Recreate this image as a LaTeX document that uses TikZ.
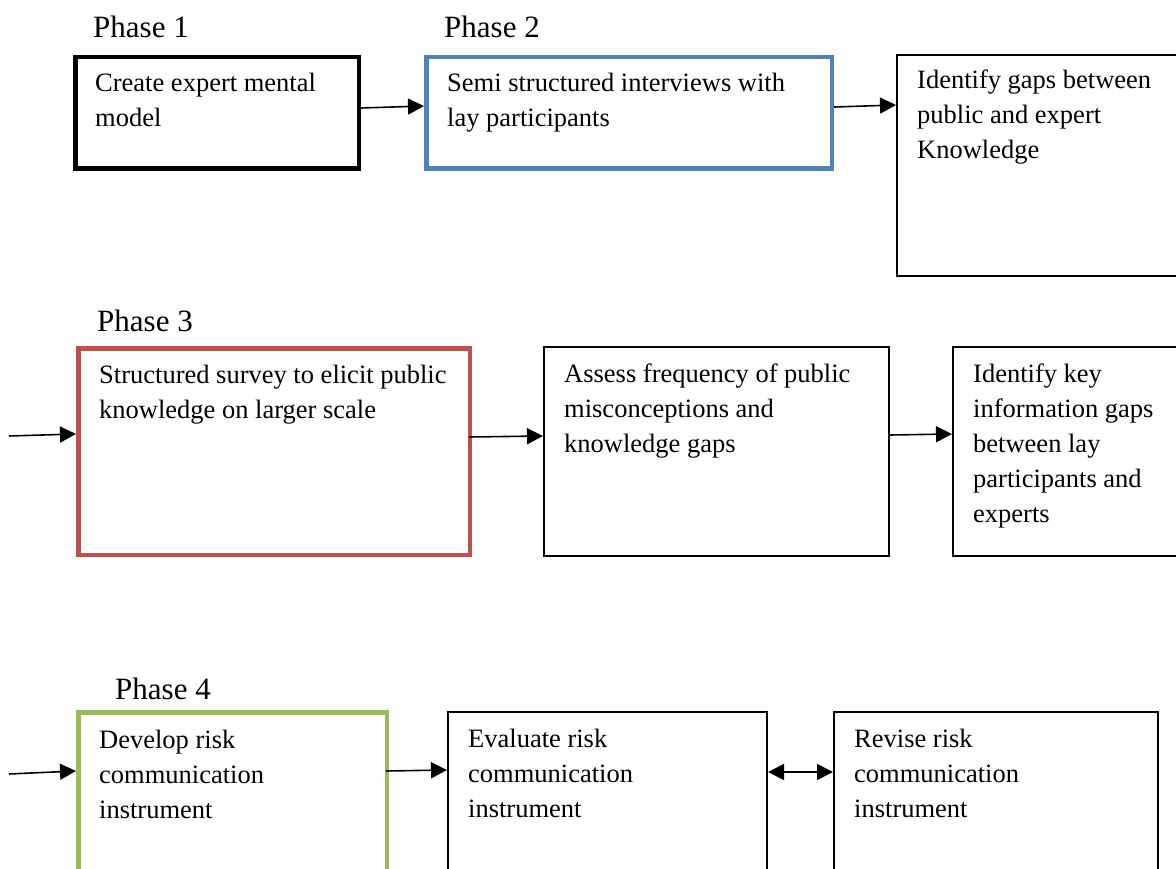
\documentclass[tikz,border=0pt]{standalone}
\usepackage{fontspec}
\setmainfont{Liberation Serif}
\usetikzlibrary{arrows.meta,calc}
\definecolor{phblue}{HTML}{4F81BD}
\definecolor{phred}{HTML}{C0504D}
\definecolor{phgreen}{HTML}{9BBB59}
\tikzset{
  stepbox/.style={draw=black, line width=2pt, rectangle, inner sep=0pt, anchor=north west, fill=none},
  phasebox/.style={stepbox, line width=4.5pt},
  boxtext/.style={inner sep=0pt, anchor=base west, font=\fontsize{26.5}{35}\selectfont},
  phaselabel/.style={inner sep=0pt, anchor=base west, font=\fontsize{31}{36}\selectfont},
  flow/.style={line width=1.6pt, -{Triangle[length=16pt,width=16pt]}},
  flowboth/.style={line width=1.6pt, {Triangle[length=16pt,width=16pt]}-{Triangle[length=16pt,width=16pt]}}
}
\newcommand{\boxlines}[1]{\parbox[t]{400pt}{#1}}
\begin{document}
\begin{tikzpicture}[x=1pt,y=-1pt]
\useasboundingbox (0,0) rectangle (1176,869);

% Row 1
\node[phaselabel] (ph1) at (93,38) {Phase 1};
\node[phaselabel] (ph2) at (444,38) {Phase 2};
\node[phasebox, minimum width=283.5pt, minimum height=111.5pt] (p1) at (73,55) {};
\node[phasebox, draw=phblue, minimum width=405.5pt, minimum height=111.5pt] (p2) at (424,55) {};
\node[stepbox, minimum width=320pt, minimum height=221pt] (b3) at (896,54) {};
\node[boxtext] (t1) at ($(p1.north west)+(22,37)$) {\boxlines{Create expert mental\\model}};
\node[boxtext] (t2) at ($(p2.north west)+(23,37)$) {\boxlines{Semi structured interviews with\\lay participants}};
\node[boxtext] (t3) at ($(b3.north west)+(21,35)$) {\boxlines{Identify gaps between\\public and expert\\Knowledge}};
\draw[flow] ($(p1.north east)+(0,53)$) -- ($(p2.north west)+(0,51)$);
\draw[flow] ($(p2.north east)+(0,52)$) -- ($(b3.north west)+(0,51)$);

% Row 2
\node[phaselabel] (ph3) at (97,331) {Phase 3};
\node[phasebox, draw=phred, minimum width=391.5pt, minimum height=206.5pt] (r1) at (76,346) {};
\node[stepbox, minimum width=345pt, minimum height=209pt] (r2) at (543,346) {};
\node[stepbox, minimum width=260pt, minimum height=209pt] (r3) at (952,346) {};
\node[boxtext] (t4) at ($(r1.north west)+(23,37)$) {\boxlines{Structured survey to elicit public\\knowledge on larger scale}};
\node[boxtext] (t5) at ($(r2.north west)+(21,36)$) {\boxlines{Assess frequency of public\\misconceptions and\\knowledge gaps}};
\node[boxtext] (t6) at ($(r3.north west)+(21,36)$) {\boxlines{Identify key\\information gaps\\between lay\\participants and\\experts}};
\coordinate (in2) at (9,436);
\draw[flow] (in2) -- ($(r1.north west)+(0,88)$);
\draw[flow] ($(r1.north east)+(-3,91)$) -- ($(r2.north west)+(0,90)$);
\draw[flow] ($(r2.north east)+(0,89)$) -- ($(r3.north west)+(0,88)$);

% Row 3
\node[phaselabel] (ph4) at (115,699) {Phase 4};
\node[phasebox, draw=phgreen, minimum width=308.5pt, minimum height=200pt] (g1) at (76,710) {};
\node[stepbox, minimum width=319pt, minimum height=200pt] (g2) at (447,711) {};
\node[stepbox, minimum width=324pt, minimum height=200pt] (g3) at (833,711) {};
\node[boxtext] (t7) at ($(g1.north west)+(23,38)$) {\boxlines{Develop risk\\communication\\instrument}};
\node[boxtext] (t8) at ($(g2.north west)+(21,36)$) {\boxlines{Evaluate risk\\communication\\instrument}};
\node[boxtext] (t9) at ($(g3.north west)+(21,36)$) {\boxlines{Revise risk\\communication\\instrument}};
\coordinate (in3) at (9,774);
\draw[flow] (in3) -- ($(g1.north west)+(0,61)$);
\draw[flow] ($(g1.north east)+(-3,61)$) -- ($(g2.north west)+(0,59)$);
\draw[flowboth] ($(g2.north east)+(0,61)$) -- ($(g3.north west)+(0,61)$);
\end{tikzpicture}
\end{document}
